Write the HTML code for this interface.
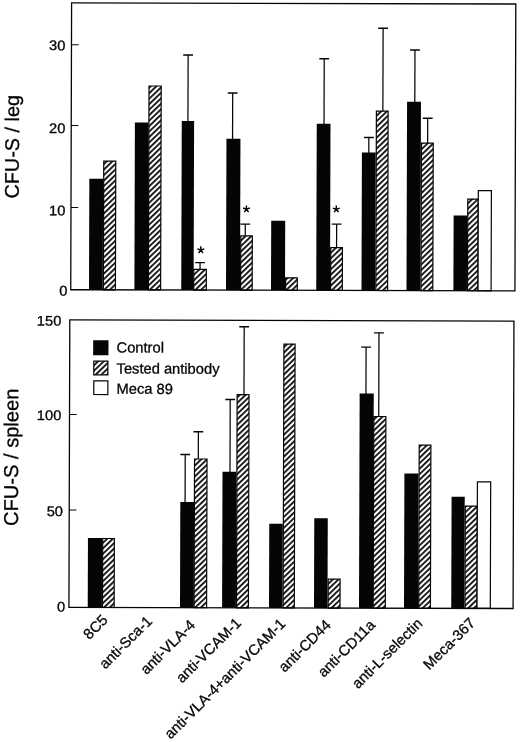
<!DOCTYPE html>
<html><head><meta charset="utf-8"><title>CFU-S chart</title>
<style>
html,body{margin:0;padding:0;background:#fff;}
body{width:520px;height:742px;overflow:hidden;font-family:"Liberation Sans",sans-serif;}
svg{display:block;will-change:transform;filter:grayscale(1) blur(0.3px);}
text{font-family:"Liberation Sans",sans-serif;fill:#050505;stroke:#050505;stroke-width:0.3px;}
</style></head><body>
<svg width="520" height="742" viewBox="0 0 520 742">
<defs>
<pattern id="hatch" patternUnits="userSpaceOnUse" width="10" height="3.95" patternTransform="rotate(-44)">
<rect x="0" y="0" width="10" height="3.95" fill="#fff"/>
<rect x="0" y="0" width="10" height="1.75" fill="#050505"/>
</pattern>
</defs>
<rect x="0" y="0" width="520" height="742" fill="#fff"/>
<g transform="matrix(1 0.0025 -0.003 1 0.0087 -0.1790)">
<rect x="89.86" y="178.69" width="13.75" height="111.06" fill="#050505"/>
<rect x="104.21" y="161.01" width="12.05" height="128.74" fill="url(#hatch)" stroke="#050505" stroke-width="1.2"/>
<rect x="135.26" y="122.33" width="13.70" height="167.42" fill="#050505"/>
<rect x="149.26" y="85.79" width="12.20" height="203.96" fill="url(#hatch)" stroke="#050505" stroke-width="1.2"/>
<rect x="182.11" y="120.81" width="12.35" height="168.94" fill="#050505"/>
<line x1="188.29" y1="54.71" x2="188.29" y2="121.31" stroke="#050505" stroke-width="1.25"/>
<line x1="183.39" y1="54.71" x2="193.19" y2="54.71" stroke="#050505" stroke-width="1.3"/>
<rect x="194.56" y="269.08" width="12.60" height="20.67" fill="url(#hatch)" stroke="#050505" stroke-width="1.2"/>
<line x1="200.86" y1="262.38" x2="200.86" y2="268.98" stroke="#050505" stroke-width="1.25"/>
<line x1="195.96" y1="262.38" x2="205.76" y2="262.38" stroke="#050505" stroke-width="1.3"/>
<rect x="226.86" y="138.35" width="14.00" height="151.40" fill="#050505"/>
<line x1="232.96" y1="92.60" x2="232.96" y2="138.85" stroke="#050505" stroke-width="1.25"/>
<line x1="228.06" y1="92.60" x2="237.86" y2="92.60" stroke="#050505" stroke-width="1.3"/>
<rect x="241.46" y="235.46" width="11.55" height="54.29" fill="url(#hatch)" stroke="#050505" stroke-width="1.2"/>
<line x1="245.94" y1="223.66" x2="245.94" y2="235.36" stroke="#050505" stroke-width="1.25"/>
<line x1="241.04" y1="223.66" x2="250.84" y2="223.66" stroke="#050505" stroke-width="1.3"/>
<rect x="271.86" y="220.28" width="14.00" height="69.47" fill="#050505"/>
<rect x="286.46" y="277.25" width="11.70" height="12.50" fill="url(#hatch)" stroke="#050505" stroke-width="1.2"/>
<rect x="317.11" y="123.12" width="13.75" height="166.63" fill="#050505"/>
<line x1="324.39" y1="58.12" x2="324.39" y2="123.62" stroke="#050505" stroke-width="1.25"/>
<line x1="319.49" y1="58.12" x2="329.29" y2="58.12" stroke="#050505" stroke-width="1.3"/>
<rect x="331.46" y="247.04" width="11.70" height="42.71" fill="url(#hatch)" stroke="#050505" stroke-width="1.2"/>
<line x1="337.31" y1="223.54" x2="337.31" y2="246.94" stroke="#050505" stroke-width="1.25"/>
<line x1="332.41" y1="223.54" x2="342.21" y2="223.54" stroke="#050505" stroke-width="1.3"/>
<rect x="362.36" y="151.76" width="13.75" height="137.99" fill="#050505"/>
<line x1="369.24" y1="136.76" x2="369.24" y2="152.26" stroke="#050505" stroke-width="1.25"/>
<line x1="364.34" y1="136.76" x2="374.14" y2="136.76" stroke="#050505" stroke-width="1.3"/>
<rect x="376.71" y="110.32" width="11.75" height="179.43" fill="url(#hatch)" stroke="#050505" stroke-width="1.2"/>
<line x1="383.19" y1="27.47" x2="383.19" y2="110.22" stroke="#050505" stroke-width="1.25"/>
<line x1="378.29" y1="27.47" x2="388.09" y2="27.47" stroke="#050505" stroke-width="1.3"/>
<rect x="407.36" y="100.90" width="13.90" height="188.85" fill="#050505"/>
<line x1="415.11" y1="49.15" x2="415.11" y2="101.40" stroke="#050505" stroke-width="1.25"/>
<line x1="410.21" y1="49.15" x2="420.01" y2="49.15" stroke="#050505" stroke-width="1.3"/>
<rect x="421.86" y="142.21" width="11.80" height="147.54" fill="url(#hatch)" stroke="#050505" stroke-width="1.2"/>
<line x1="428.06" y1="117.36" x2="428.06" y2="142.11" stroke="#050505" stroke-width="1.25"/>
<line x1="423.16" y1="117.36" x2="432.96" y2="117.36" stroke="#050505" stroke-width="1.3"/>
<rect x="454.26" y="214.53" width="13.50" height="75.22" fill="#050505"/>
<rect x="468.36" y="198.10" width="10.40" height="91.65" fill="url(#hatch)" stroke="#050505" stroke-width="1.2"/>
<rect x="478.88" y="189.57" width="13.08" height="100.18" fill="#fff" stroke="#050505" stroke-width="1.2"/>
<rect x="89.56" y="537.84" width="14.15" height="69.56" fill="#050505"/>
<rect x="104.31" y="538.41" width="11.65" height="68.99" fill="url(#hatch)" stroke="#050505" stroke-width="1.2"/>
<rect x="181.81" y="501.71" width="13.75" height="105.69" fill="#050505"/>
<line x1="186.59" y1="454.21" x2="186.59" y2="502.21" stroke="#050505" stroke-width="1.25"/>
<line x1="181.69" y1="454.21" x2="191.49" y2="454.21" stroke="#050505" stroke-width="1.3"/>
<rect x="195.91" y="458.68" width="12.50" height="148.72" fill="url(#hatch)" stroke="#050505" stroke-width="1.2"/>
<line x1="199.66" y1="431.43" x2="199.66" y2="458.58" stroke="#050505" stroke-width="1.25"/>
<line x1="194.76" y1="431.43" x2="204.56" y2="431.43" stroke="#050505" stroke-width="1.3"/>
<rect x="223.91" y="471.36" width="13.80" height="136.04" fill="#050505"/>
<line x1="231.41" y1="399.11" x2="231.41" y2="471.86" stroke="#050505" stroke-width="1.25"/>
<line x1="226.51" y1="399.11" x2="236.31" y2="399.11" stroke="#050505" stroke-width="1.3"/>
<rect x="238.31" y="394.17" width="11.90" height="213.23" fill="url(#hatch)" stroke="#050505" stroke-width="1.2"/>
<line x1="245.16" y1="326.32" x2="245.16" y2="394.07" stroke="#050505" stroke-width="1.25"/>
<line x1="240.26" y1="326.32" x2="250.06" y2="326.32" stroke="#050505" stroke-width="1.3"/>
<rect x="270.82" y="523.24" width="13.50" height="84.16" fill="#050505"/>
<rect x="284.92" y="343.56" width="11.20" height="263.84" fill="url(#hatch)" stroke="#050505" stroke-width="1.2"/>
<rect x="315.82" y="517.63" width="13.50" height="89.77" fill="#050505"/>
<rect x="329.92" y="578.54" width="11.90" height="28.86" fill="url(#hatch)" stroke="#050505" stroke-width="1.2"/>
<rect x="360.82" y="392.86" width="14.10" height="214.54" fill="#050505"/>
<line x1="367.12" y1="346.36" x2="367.12" y2="393.36" stroke="#050505" stroke-width="1.25"/>
<line x1="362.22" y1="346.36" x2="372.02" y2="346.36" stroke="#050505" stroke-width="1.3"/>
<rect x="375.02" y="415.73" width="12.10" height="191.67" fill="url(#hatch)" stroke="#050505" stroke-width="1.2"/>
<line x1="379.97" y1="332.03" x2="379.97" y2="415.63" stroke="#050505" stroke-width="1.25"/>
<line x1="375.07" y1="332.03" x2="384.87" y2="332.03" stroke="#050505" stroke-width="1.3"/>
<rect x="405.82" y="472.65" width="14.10" height="134.75" fill="#050505"/>
<rect x="420.52" y="444.22" width="11.70" height="163.18" fill="url(#hatch)" stroke="#050505" stroke-width="1.2"/>
<rect x="453.07" y="495.78" width="13.15" height="111.62" fill="#050505"/>
<rect x="466.82" y="505.10" width="11.90" height="102.30" fill="url(#hatch)" stroke="#050505" stroke-width="1.2"/>
<rect x="478.84" y="480.82" width="13.28" height="126.58" fill="#fff" stroke="#050505" stroke-width="1.2"/>
<rect x="71.6" y="2.9" width="444.19999999999993" height="286.85" fill="none" stroke="#050505" stroke-width="1.3"/>
<rect x="70.75" y="319.95" width="444.15" height="287.45" fill="none" stroke="#050505" stroke-width="1.3"/>
<line x1="71.6" y1="44.75" x2="78.8" y2="44.75" stroke="#050505" stroke-width="1"/>
<line x1="71.6" y1="125.4" x2="78.8" y2="125.4" stroke="#050505" stroke-width="1"/>
<line x1="71.6" y1="207.5" x2="78.8" y2="207.5" stroke="#050505" stroke-width="1"/>
<line x1="70.75" y1="414.5" x2="77.95" y2="414.5" stroke="#050505" stroke-width="1"/>
<line x1="70.75" y1="510.0" x2="77.95" y2="510.0" stroke="#050505" stroke-width="1"/>
<path d="M201.54 249.68L201.54 246.03M201.54 249.68L205.01 248.55M201.54 249.68L203.69 252.63M201.54 249.68L199.40 252.63M201.54 249.68L198.07 248.55" stroke="#050505" stroke-width="1.45" fill="none"/>
<path d="M247.02 208.66L247.02 205.01M247.02 208.66L250.49 207.54M247.02 208.66L249.16 211.62M247.02 208.66L244.87 211.62M247.02 208.66L243.55 207.54" stroke="#050505" stroke-width="1.45" fill="none"/>
<path d="M336.92 208.54L336.92 204.89M336.92 208.54L340.39 207.41M336.92 208.54L339.06 211.49M336.92 208.54L334.77 211.49M336.92 208.54L333.45 207.41" stroke="#050505" stroke-width="1.45" fill="none"/>
<text transform="translate(65.43 50.17) scale(1.06 1)" font-size="13.8" text-anchor="end">30</text>
<text transform="translate(65.68 132.97) scale(1.06 1)" font-size="13.8" text-anchor="end">20</text>
<text transform="translate(65.92 215.37) scale(1.06 1)" font-size="13.8" text-anchor="end">10</text>
<text transform="translate(68.36 295.46) scale(1.06 1)" font-size="13.8" text-anchor="end">0</text>
<text transform="translate(62.25 325.48) scale(1.06 1)" font-size="13.8" text-anchor="end">150</text>
<text transform="translate(62.54 420.13) scale(1.06 1)" font-size="13.8" text-anchor="end">100</text>
<text transform="translate(64.53 516.12) scale(1.06 1)" font-size="13.8" text-anchor="end">50</text>
<text transform="translate(67.01 611.47) scale(1.06 1)" font-size="13.8" text-anchor="end">0</text>
<text transform="translate(19.33 198.73) rotate(-90)" font-size="19.85">CFU-S / leg</text>
<text transform="translate(19.47 526.13) rotate(-90)" font-size="20.1">CFU-S / spleen</text>
<rect x="94.21" y="340.25" width="15.30" height="14.90" fill="#050505"/>
<text x="117.65" y="352.29" font-size="14.7">Control</text>
<rect x="94.87" y="361.05" width="14.10" height="13.70" fill="url(#hatch)" stroke="#050505" stroke-width="1.2"/>
<text x="117.71" y="373.39" font-size="14.7">Tested antibody</text>
<rect x="94.93" y="380.75" width="14.10" height="13.70" fill="#fff" stroke="#050505" stroke-width="1.2"/>
<text x="117.77" y="393.69" font-size="14.7">Meca 89</text>
<text transform="translate(110.45 620.91) rotate(-45)" font-size="14.8" text-anchor="end">8C5</text>
<text transform="translate(154.86 622.00) rotate(-45)" font-size="14.8" text-anchor="end">anti-Sca-1</text>
<text transform="translate(197.87 625.69) rotate(-45)" font-size="14.8" text-anchor="end">anti-VLA-4</text>
<text transform="translate(243.86 623.57) rotate(-45)" font-size="14.8" text-anchor="end">anti-VCAM-1</text>
<text transform="translate(288.17 624.16) rotate(-45)" font-size="14.8" text-anchor="end">anti-VLA-4+anti-VCAM-1</text>
<text transform="translate(333.67 625.35) rotate(-45)" font-size="14.8" text-anchor="end">anti-CD44</text>
<text transform="translate(377.87 625.24) rotate(-45)" font-size="14.8" text-anchor="end">anti-CD11a</text>
<text transform="translate(425.16 623.52) rotate(-45)" font-size="14.8" text-anchor="end">anti-L-selectin</text>
<text transform="translate(477.86 622.99) rotate(-45)" font-size="14.8" text-anchor="end">Meca-367</text>
</g>
</svg>
</body></html>
